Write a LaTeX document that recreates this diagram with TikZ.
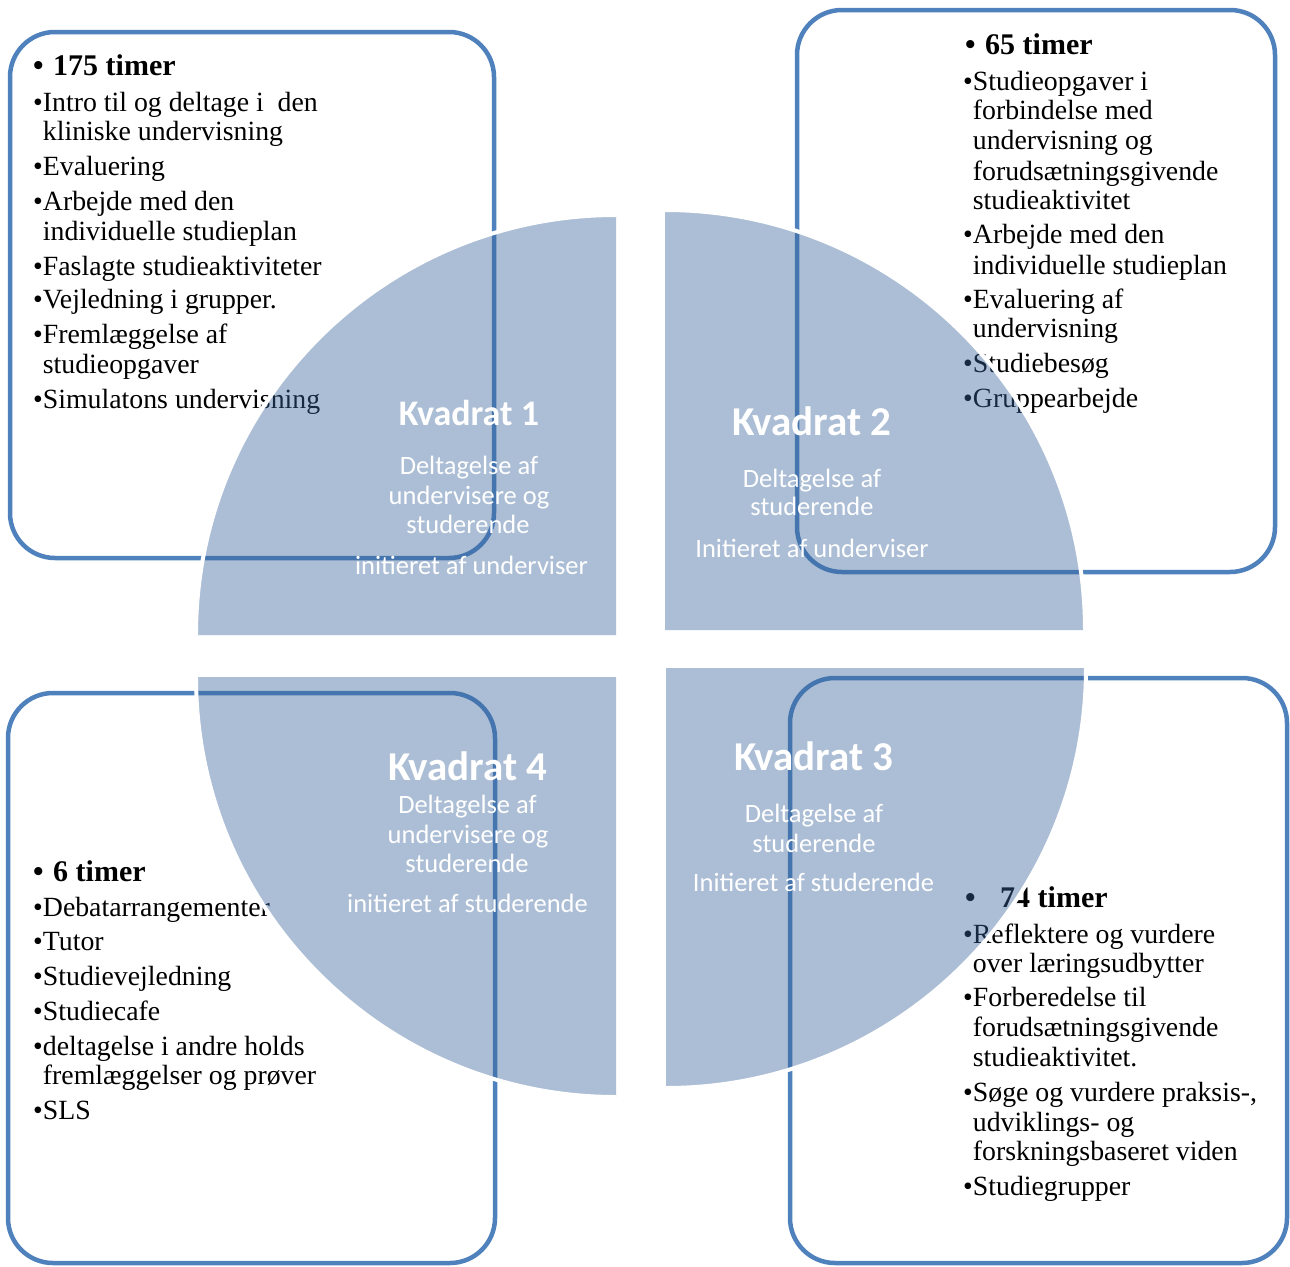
\documentclass[tikz,border=0pt]{standalone}
\usepackage{fontspec}
\setmainfont{Liberation Serif}
\newfontfamily\calib{Carlito}
\definecolor{boxblue}{RGB}{79,129,189}
\definecolor{secblue}{RGB}{57,101,156}
\begin{document}
\begin{tikzpicture}[x=1pt,y=-1pt,
  lst/.style={anchor=base west,inner sep=0pt,font=\fontsize{27.8}{30}\selectfont},
  hd/.style={anchor=base west,inner sep=0pt,font=\fontsize{30}{33}\selectfont\bfseries},
  box/.style={draw=boxblue,line width=4.5pt,rounded corners=45pt,fill=white},
  sector/.style={fill=secblue,fill opacity=0.415},
  rim/.style={draw=white,line width=4pt},
  kv/.style={anchor=base,inner sep=0pt,text=white,font=\calib\bfseries\fontsize{41}{45}\selectfont},
  kvs/.style={kv,font=\calib\bfseries\fontsize{36}{40}\selectfont},
  wt/.style={anchor=base,inner sep=0pt,text=white,font=\calib\fontsize{26.5}{30}\selectfont}]
\useasboundingbox[fill=white] (0,0) rectangle (1290,1266);

% boxes
\draw[box] (10,32) rectangle (494,558);
\draw[box] (797,10) rectangle (1275,572);
\draw[box] (790,678) rectangle (1287,1263);
\draw[box] (8,693) rectangle (495,1263);

% box 1 text
\node[hd] (h1) at (33,75) {\makebox[20pt][l]{•}175 timer};
\node[lst] (a1) at (33,111) {•Intro til og deltage i\ \ den};
\node[lst] (a1b) at (42.7,140) {kliniske undervisning};
\node[lst] (a2) at (33,175) {•Evaluering};
\node[lst] (a3) at (33,210) {•Arbejde med den};
\node[lst] (a3b) at (42.7,240) {individuelle studieplan};
\node[lst] (a4) at (33,275) {•Faslagte studieaktiviteter};
\node[lst] (a5) at (33,308) {•Vejledning i grupper.};
\node[lst] (a6) at (33,343) {•Fremlæggelse af};
\node[lst] (a6b) at (42.7,373) {studieopgaver};
\node[lst] (a7) at (33,408) {•Simulatons undervisning};

% box 2 text
\node[hd] (h2) at (965,54) {\makebox[20pt][l]{•}65 timer};
\node[lst] (b1) at (963,90) {•Studieopgaver i};
\node[lst] (b1b) at (972.7,119) {forbindelse med};
\node[lst] (b1c) at (972.7,149) {undervisning og};
\node[lst] (b1d) at (972.7,180) {forudsætningsgivende};
\node[lst] (b1e) at (972.7,209) {studieaktivitet};
\node[lst] (b2) at (963,243) {•Arbejde med den};
\node[lst] (b2b) at (972.7,274) {individuelle studieplan};
\node[lst] (b3) at (963,308) {•Evaluering af};
\node[lst] (b3b) at (972.7,337) {undervisning};
\node[lst] (b4) at (963,372) {•Studiebesøg};
\node[lst] (b5) at (963,407) {•Gruppearbejde};

% box 3 text
\node[hd] (h3) at (965,907) {\makebox[35pt][l]{•}74 timer};
\node[lst] (c1) at (963,943) {•Reflektere og vurdere};
\node[lst] (c1b) at (972.7,972) {over læringsudbytter};
\node[lst] (c2) at (963,1006) {•Forberedelse til};
\node[lst] (c2b) at (972.7,1036) {forudsætningsgivende};
\node[lst] (c2c) at (972.7,1066) {studieaktivitet.};
\node[lst] (c3) at (963,1101) {•Søge og vurdere praksis-,};
\node[lst] (c3b) at (972.7,1131) {udviklings- og};
\node[lst] (c3c) at (972.7,1160) {forskningsbaseret viden};
\node[lst] (c4) at (963,1195) {•Studiegrupper};

% box 4 text
\node[hd] (h4) at (33,881) {\makebox[20pt][l]{•}6 timer};
\node[lst] (d1) at (33,916) {•Debatarrangementer};
\node[lst] (d2) at (33,950) {•Tutor};
\node[lst] (d3) at (33,985) {•Studievejledning};
\node[lst] (d4) at (33,1020) {•Studiecafe};
\node[lst] (d5) at (33,1055) {•deltagelse i andre holds};
\node[lst] (d5b) at (42.7,1084) {fremlæggelser og prøver};
\node[lst] (d6) at (33,1119) {•SLS};

% sectors (fill) and their white rims along the arcs
\fill[sector] (616,635) -- (616,215) arc[start angle=90,end angle=180,radius=420pt] -- cycle;
\fill[sector] (665,630) -- (1085,630) arc[start angle=0,end angle=90,radius=420pt] -- cycle;
\fill[sector] (616,677) -- (196,677) arc[start angle=180,end angle=270,radius=420pt] -- cycle;
\fill[sector] (666,668) -- (666,1088) arc[start angle=270,end angle=360,radius=420pt] -- cycle;
\draw[rim] (616,215) arc[start angle=90,end angle=180,radius=420pt];
\draw[rim] (1085,630) arc[start angle=0,end angle=90,radius=420pt];
\draw[rim] (196,677) arc[start angle=180,end angle=270,radius=420pt];
\draw[rim] (666,1088) arc[start angle=270,end angle=360,radius=420pt];

% sector labels
\node[kvs] (k1) at (469,425) {Kvadrat 1};
\node[wt] (k1a) at (469,474) {Deltagelse af};
\node[wt] (k1b) at (469,504) {undervisere og};
\node[wt] (k1c) at (468,533) {studerende};
\node[wt] (k1d) at (471.5,574) {initieret af underviser};

\node[kv] (k2) at (812,435) {Kvadrat 2};
\node[wt] (k2a) at (812,487) {Deltagelse af};
\node[wt] (k2b) at (812,515) {studerende};
\node[wt] (k2c) at (812,557) {Initieret af underviser};

\node[kv] (k3) at (814,770) {Kvadrat 3};
\node[wt] (k3a) at (814,822) {Deltagelse af};
\node[wt] (k3b) at (814,852) {studerende};
\node[wt] (k3c) at (813.5,891) {Initieret af studerende};

\node[kv] (k4) at (468,780) {Kvadrat 4};
\node[wt] (k4a) at (467.5,813) {Deltagelse af};
\node[wt] (k4b) at (468,843) {undervisere og};
\node[wt] (k4c) at (467,872) {studerende};
\node[wt] (k4d) at (467.5,912) {initieret af studerende};
\end{tikzpicture}
\end{document}
